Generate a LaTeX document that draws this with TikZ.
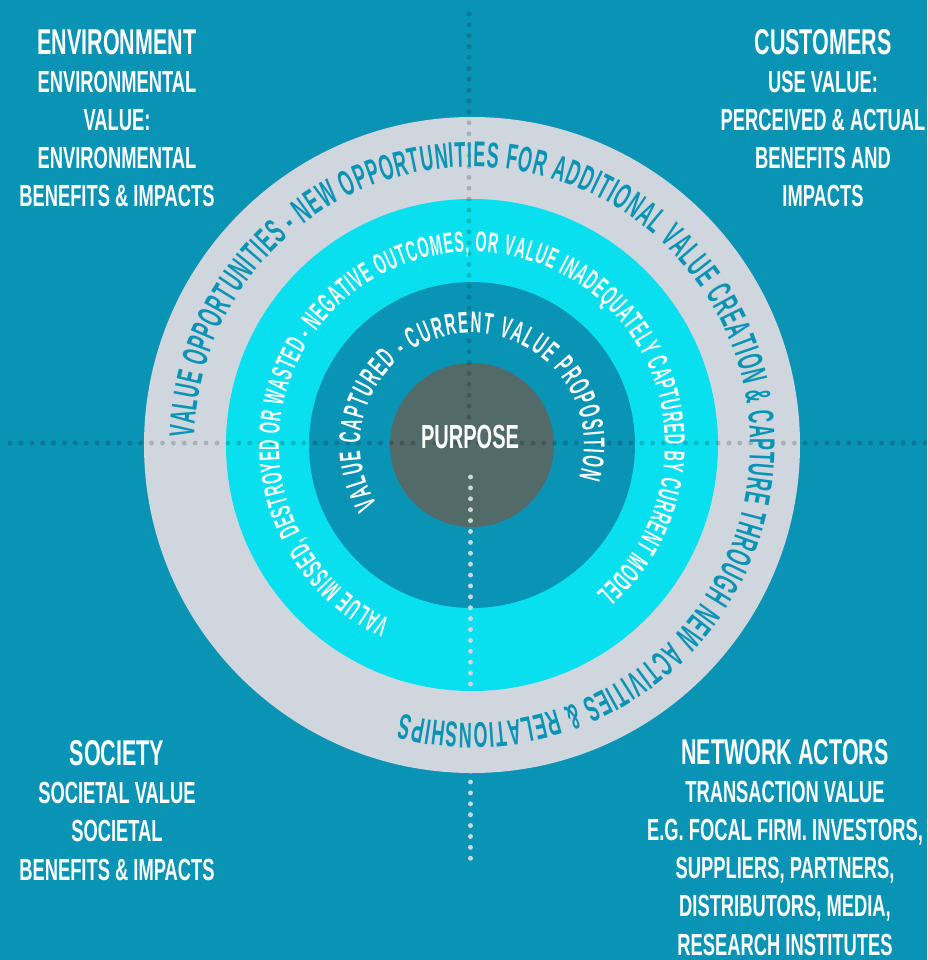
\documentclass[tikz,border=0pt]{standalone}
\usepackage{fontspec}
\setmainfont{Liberation Sans}[FakeStretch=0.6]
\newfontfamily\ringfont{Liberation Sans}[FakeStretch=0.5]
\usetikzlibrary{decorations.text}
\definecolor{bgblue}{HTML}{0994B6}
\definecolor{ringgray}{HTML}{CFD6DD}
\definecolor{ringcyan}{HTML}{08E0F0}
\definecolor{purposegray}{HTML}{536B68}
\definecolor{dotgray}{HTML}{CDD5DD}
\tikzset{
  corner/.style={align=center, text=white, inner sep=0pt, anchor=base,
    font=\bfseries\fontsize{17.4}{21.7}\selectfont},
  darkdots/.style={draw=black, draw opacity=0.18, line width=2.8pt,
    line cap=round, dash pattern=on 0pt off 6.2pt},
  lightdots/.style={draw=dotgray, line width=2.8pt,
    line cap=round, dash pattern=on 0pt off 6.2pt},
}
\newcommand{\headline}[1]{{\fontsize{20.4}{21.7}\selectfont #1}}
\newcommand{\ringtext}[1]{\ringfont\bfseries\fontsize{#1}{#1}\selectfont}

\begin{document}
\begin{tikzpicture}[x=0.02cm,y=0.02cm]
    \fill[bgblue] (-472,-515) rectangle (455,445);
    \useasboundingbox (-472,-515) rectangle (455,445);
    % rings
    \fill[ringgray] (0,0) circle (328);
    \fill[ringcyan] (0,0) circle (246);
    \fill[bgblue] (0,0) circle (163);
    \fill[purposegray] (0,0) circle (82);
    % dotted axes
    \draw[darkdots] (-462,2) -- (455,2);
    \draw[darkdots] (-3,431) -- (-3,2);
    \draw[lightdots] (-1.5,-32) -- (-1.5,-422);
    % text on the rings
    \path[decorate, decoration={text along path, text align=fit to path,
      text={|\ringtext{20.4}\color{bgblue}|VALUE OPPORTUNITIES - NEW OPPORTUNITIES FOR ADDITIONAL VALUE CREATION {\&} CAPTURE THROUGH NEW ACTIVITIES {\&} RELATIONSHIPS}}]
      (178.5:278) arc[start angle=178.5, end angle=-104.5, radius=278];
    \path[decorate, decoration={text along path, text align=fit to path,
      text={|\ringtext{16.4}\color{white}|VALUE MISSED, DESTROYED OR WASTED - NEGATIVE OUTCOMES, OR VALUE INADEQUATELY CAPTURED BY CURRENT MODEL}}]
      (245:193) arc[start angle=245, end angle=-50, radius=193];
    \path[decorate, decoration={text along path, text align=fit to path,
      text={|\ringtext{17}\color{white}|VALUE CAPTURED - CURRENT VALUE PROPOSITION}}]
      (212:112) arc[start angle=212, end angle=-17, radius=112];
    \node[text=white, inner sep=0pt, font=\bfseries\fontsize{19}{19}\selectfont] (purpose) at (-2,7.5) {PURPOSE};
    % the four stakeholder groups (base = last line)
    \node[corner] (environment) at (-355,238) {\headline{ENVIRONMENT}\\ENVIRONMENTAL\\VALUE:\\ENVIRONMENTAL\\BENEFITS \& IMPACTS};
    \node[corner] (customers) at (351,238) {\headline{CUSTOMERS}\\USE VALUE:\\PERCEIVED \& ACTUAL\\BENEFITS AND\\IMPACTS};
    \node[corner] (society) at (-355,-435) {\headline{SOCIETY}\\SOCIETAL VALUE\\SOCIETAL\\BENEFITS \& IMPACTS};
    \node[corner] (network) at (313,-510) {\headline{NETWORK ACTORS}\\TRANSACTION VALUE\\E.G. FOCAL FIRM. INVESTORS,\\SUPPLIERS, PARTNERS,\\DISTRIBUTORS, MEDIA,\\RESEARCH INSTITUTES};
\end{tikzpicture}
\end{document}
